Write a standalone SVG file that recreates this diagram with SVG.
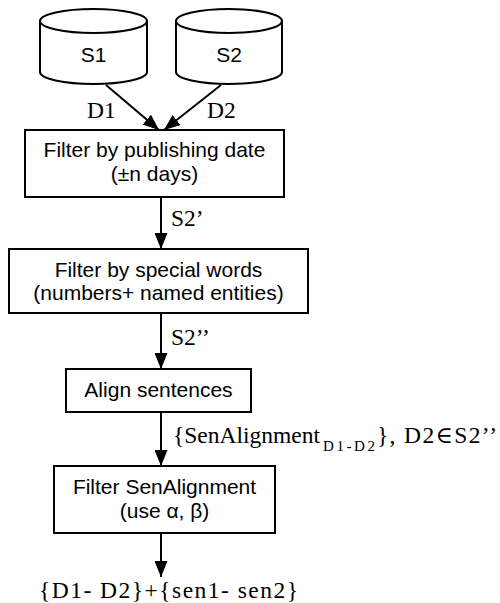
<svg xmlns="http://www.w3.org/2000/svg" width="500" height="603" viewBox="0 0 500 603">
<defs>
<style>
.shape{fill:#fff;stroke:#000;stroke-width:2}
.edge{fill:none;stroke:#000;stroke-width:2}
.sans{font-family:"Liberation Sans",Arial,sans-serif;font-size:21px;fill:#000;text-anchor:middle}
.serif{font-family:"Liberation Serif","DejaVu Serif",serif;font-size:23.5px;fill:#000}
</style>
<marker id="arr" viewBox="0 0 16 13" markerWidth="16" markerHeight="13" refX="16" refY="6.5" orient="auto" markerUnits="userSpaceOnUse">
<path d="M0,0 L16,6.5 L0,13 z" fill="#000"/>
</marker>
</defs>
<rect width="500" height="603" fill="#fff"/>
<g id="S1">
<path class="shape" d="M40,21 L40,72 A53.5,12 0 0 0 147,72 L147,21"/>
<ellipse class="shape" cx="93.5" cy="21" rx="53.5" ry="12"/>
<text class="sans" x="93.5" y="62">S1</text>
</g>
<g id="S2">
<path class="shape" d="M176,21 L176,72 A53,12 0 0 0 282,72 L282,21"/>
<ellipse class="shape" cx="229" cy="21" rx="53" ry="12"/>
<text class="sans" x="229" y="62">S2</text>
</g>
<g id="filter-date">
<rect class="shape" x="25" y="130" width="259" height="67"/>
<text class="sans" x="154.5" y="157">Filter by publishing date</text>
<text class="sans" x="154.5" y="181">(±n days)</text>
</g>
<g id="filter-words">
<rect class="shape" x="9" y="249" width="299" height="64"/>
<text class="sans" x="158.5" y="277">Filter by special words</text>
<text class="sans" x="158.5" y="300">(numbers+ named entities)</text>
</g>
<g id="align">
<rect class="shape" x="66" y="369" width="185" height="43"/>
<text class="sans" x="158.5" y="397">Align sentences</text>
</g>
<g id="filter-align">
<rect class="shape" x="54" y="466" width="221" height="67"/>
<text class="sans" x="164.5" y="494">Filter SenAlignment</text>
<text class="sans" x="164.5" y="518">(use α, β)</text>
</g>
<g id="connectors">
<line class="edge" x1="106" y1="85" x2="159" y2="130" marker-end="url(#arr)"/>
<line class="edge" x1="221" y1="85" x2="164" y2="130" marker-end="url(#arr)"/>
<line class="edge" x1="161" y1="197" x2="161" y2="249" marker-end="url(#arr)"/>
<line class="edge" x1="161" y1="313" x2="161" y2="369" marker-end="url(#arr)"/>
<line class="edge" x1="161" y1="412" x2="161" y2="466" marker-end="url(#arr)"/>
<line class="edge" x1="161" y1="533" x2="161" y2="577" marker-end="url(#arr)"/>
</g>
<g id="labels">
<text class="serif" x="87" y="118">D1</text>
<text class="serif" x="207" y="118">D2</text>
<text class="serif" x="171" y="226">S2’</text>
<text class="serif" x="171" y="345">S2’’</text>
<text class="serif" x="173" y="443">{SenAlignment</text>
<text class="serif" x="323" y="451" style="font-size:15px" textLength="52" lengthAdjust="spacing">D1-D2</text>
<text class="serif" x="377" y="443" textLength="120" lengthAdjust="spacing">}, D2∈S2’’</text>
<text class="serif" x="39" y="598" textLength="259" lengthAdjust="spacing">{D1- D2}+{sen1- sen2}</text>
</g>
</svg>
